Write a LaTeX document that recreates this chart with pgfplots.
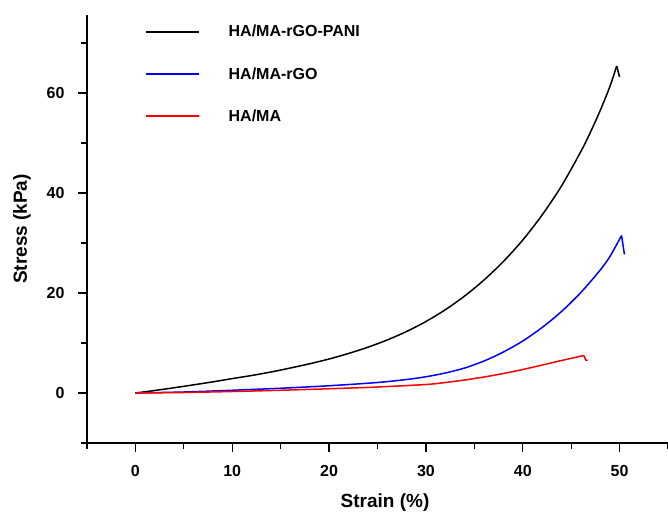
\documentclass[border=0pt]{standalone}
\usepackage{pgfplots}
\pgfplotsset{compat=1.18}
\usepackage{fontspec}
\setmainfont{Liberation Sans}
\begin{document}
\begin{tikzpicture}
\begin{axis}[
  scale only axis,
  width=581pt, height=428pt,
  at={(0,0)}, anchor=south west,
  xmin=-5, xmax=55, ymin=-10, ymax=75.6,
  axis x line=bottom, axis y line=left,
  axis line style={-, line width=1.2pt},
  xtick={0,10,20,30,40,50},
  minor xtick={-5,5,15,25,35,45,55},
  ytick={0,20,40,60},
  minor ytick={-10,10,30,50,70},
  tick align=outside,
  major tick length=9pt, minor tick length=6pt,
  every tick/.style={line width=1.2pt, black},
  /pgf/number format/assume math mode=true,
  ticklabel style={font=\fontsize{16}{16}\selectfont\bfseries},
  yticklabel style={xshift=-10pt},
  xticklabel style={yshift=-10pt},
  xlabel={Strain (\%)}, ylabel={Stress (kPa)},
  label style={font=\fontsize{19}{19}\selectfont\bfseries},
  xlabel style={at={(axis description cs:0.513,-0.140)}, anchor=center},
  ylabel style={at={(axis description cs:-0.112,0.5)}, anchor=center},
  legend cell align=left,
  legend style={draw=none, fill=none, at={(0.0998,0.981)}, anchor=north west,
    font=\fontsize{16}{16}\selectfont\bfseries, row sep=25pt,
    inner sep=0pt},
  legend image code/.code={\draw[#1, line width=1.5pt] (0pt,0pt) -- (53pt,0pt);},
  clip=false,
]
\addplot[black, line width=1.5pt, smooth] coordinates {
(0,0) (2,0.5) (4,1.05) (6,1.63) (8,2.23) (10,2.88) (12,3.5) (14,4.2) (16,5.0) (18,5.85)
(20,6.8) (22,7.9) (24,9.15) (26,10.6) (28,12.3) (30,14.3) (32,16.65) (34,19.4) (36,22.6)
(38,26.3) (40,30.6) (42,35.6) (44,41.4) (46,48.3) (47,52.2) (48,56.5) (49,61.3) (49.7,65.4)};
\addlegendentry{\hspace{27pt}HA/MA-rGO-PANI}
\addplot[blue, line width=1.5pt, smooth] coordinates {
(0,0) (5,0.2) (10,0.55) (15,0.95) (20,1.45) (25,2.1) (28,2.7) (30,3.25) (32,4.0) (34,5.0)
(36,6.4) (38,8.2) (40,10.4) (42,13.1) (44,16.3) (46,20.1) (48,24.6) (49,27.3) (50.2,31.5)};
\addlegendentry{\hspace{27pt}HA/MA-rGO}
\addplot[red, line width=1.5pt, smooth] coordinates {
(0,0) (5,0.1) (10,0.3) (15,0.55) (20,0.85) (25,1.2) (30,1.7) (32,2.1) (34,2.6) (36,3.2)
(38,3.9) (40,4.7) (42,5.6) (44,6.5) (46.3,7.5)};
\addlegendentry{\hspace{27pt}HA/MA}
\addplot[black, line width=1.5pt, forget plot] coordinates {(49.7,65.4) (50.0,63.2)};
\addplot[blue, line width=1.5pt, forget plot] coordinates {(50.2,31.5) (50.5,27.7)};
\addplot[red, line width=1.5pt, forget plot] coordinates {(46.3,7.5) (46.5,6.6) (46.7,6.5)};
\end{axis}
\pgfresetboundingbox
\path (-87pt,-68pt) rectangle (581pt,443pt);
\end{tikzpicture}
\end{document}
